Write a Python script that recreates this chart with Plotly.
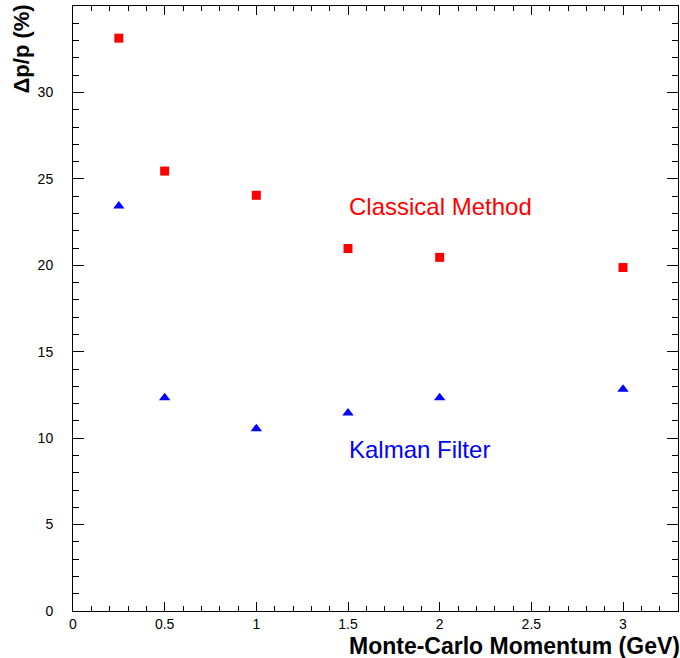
import plotly.graph_objects as go

momentum = [0.25, 0.5, 1.0, 1.5, 2.0, 3.0]
classical = [33.14, 25.45, 24.05, 20.97, 20.46, 19.87]
kalman = [23.43, 12.34, 10.55, 11.45, 12.34, 12.83]

FONT = "Liberation Sans, Arial, sans-serif"

fig = go.Figure()
fig.add_trace(go.Scatter(x=momentum, y=classical, mode="markers",
                         marker=dict(symbol="square", size=9, color="#ff0000", line=dict(width=0)),
                         name="Classical Method"))
fig.add_trace(go.Scatter(x=momentum, y=kalman, mode="markers",
                         marker=dict(symbol="triangle-up", size=10, color="#0000ff", line=dict(width=0)),
                         name="Kalman Filter"))

axis_common = dict(showgrid=False, zeroline=False, showline=True, linecolor="black", linewidth=1,
                   mirror="ticks", ticks="inside", tickcolor="black", tickwidth=1,
                   tickfont=dict(family=FONT, size=14, color="black"))

fig.update_xaxes(range=[0, 3.3], dtick=0.5, tick0=0, ticklen=9, ticklabelstandoff=0,
                 minor=dict(dtick=0.1, ticks="inside", ticklen=5, tickcolor="black", tickwidth=1),
                 **axis_common)
fig.update_yaxes(range=[0, 35], dtick=5, tick0=0, ticklen=11, ticklabelstandoff=16,
                 minor=dict(dtick=1, ticks="inside", ticklen=6, tickcolor="black", tickwidth=1),
                 **axis_common)

fig.add_annotation(text="Classical Method", xref="paper", yref="paper", x=(347-73)/605, y=(611-207)/605,
                   xanchor="left", yanchor="middle", showarrow=False,
                   font=dict(family=FONT, size=24, color="#ff0000"))
fig.add_annotation(text="Kalman Filter", xref="paper", yref="paper", x=(347-73)/605, y=(611-449)/605,
                   xanchor="left", yanchor="middle", showarrow=False,
                   font=dict(family=FONT, size=24, color="#0000ff"))
fig.add_annotation(text="<b>Δp/p (%)</b>", xref="paper", yref="paper", x=-(73-21)/605, y=1.005,
                   xanchor="center", yanchor="top", textangle=-90, showarrow=False,
                   font=dict(family=FONT, size=22, color="black"))
fig.add_annotation(text="<b>Monte-Carlo Momentum (GeV)</b>", xref="paper", yref="paper", x=1.005, y=-(646-611)/605,
                   xanchor="right", yanchor="middle", showarrow=False, borderpad=0,
                   font=dict(family=FONT, size=23, color="black"))

fig.update_layout(width=680, height=658, margin=dict(l=73, r=2, t=6, b=47),
                  plot_bgcolor="white", paper_bgcolor="white", showlegend=False)

fig.write_html("out.html", config={"displayModeBar": False},
               post_script="document.body.style.margin='0';document.body.style.overflow='hidden';")
